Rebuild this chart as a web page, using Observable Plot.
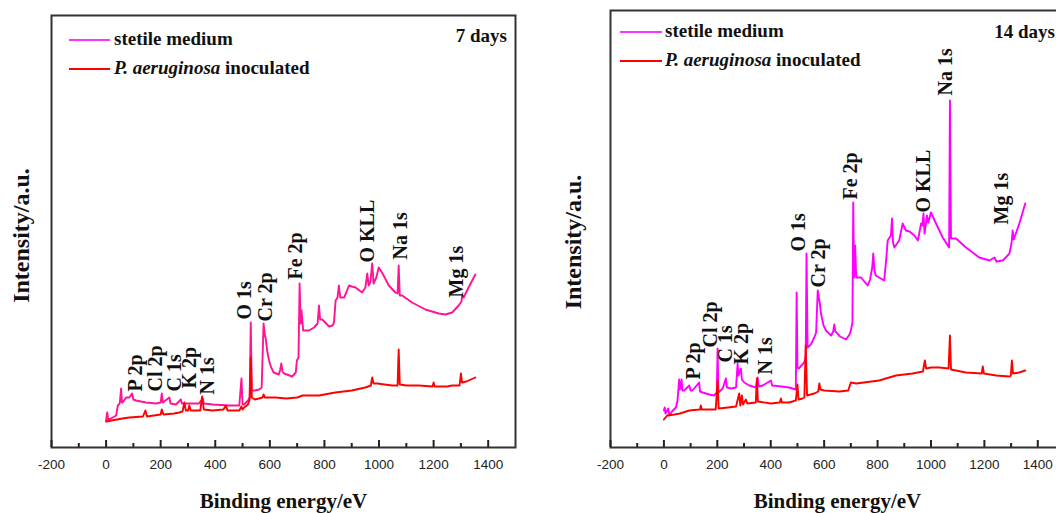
<!DOCTYPE html>
<html><head><meta charset="utf-8">
<script src="https://cdn.jsdelivr.net/npm/d3@7"></script>
<script src="https://cdn.jsdelivr.net/npm/@observablehq/plot@0.6"></script>
<style>
html,body{margin:0;padding:0;background:#fff}
body{width:1056px;height:513px;overflow:hidden;position:relative}
.panel{position:absolute;top:0;height:513px;overflow:hidden}
.panel svg{position:absolute;left:0;top:0;max-width:none!important}
.leg{position:absolute;font:bold 19px "Liberation Serif",serif;color:#111;white-space:nowrap;line-height:20px}
.sw{position:absolute;height:2px}
.day{position:absolute;font:bold 19px "Liberation Serif",serif;color:#111;white-space:nowrap;line-height:20px}
</style></head><body>
<div id="p1" class="panel" style="left:0;width:530px"></div>
<div id="p2" class="panel" style="left:530px;width:526px"></div>
<script>
// ---- data (binding energy eV, intensity a.u.) ----
const majorTicks = [-200, 0, 200, 400, 600, 800, 1000, 1200, 1400];
const minorTicks = [-100, 100, 300, 500, 700, 900, 1100, 1300];
const seriesNames = ["stetile medium", "P. aeruginosa inoculated"];
const peakNames = ["P 2p", "Cl 2p", "C 1s", "K 2p", "N 1s", "O 1s", "Cr 2p", "Fe 2p", "O KLL", "Na 1s", "Mg 1s"];

// 7 days
const sterile7 = [[0,27],[4,35],[8,28],[18,29],[37,32],[43,42],[50,44],[55,59],[58,45],[61,45],[73,50],[85,50],[95,54],[100,48],[110,47],[146,45],[183,44],[200,45],[204,54],[208,45],[232,50],[236,44],[256,43],[274,48],[278,44],[305,44],[340,44],[354,49],[358,44],[390,43],[451,42],[488,42],[496,69],[500,43],[506,43],[520,47],[526,50],[530,125],[534,57],[545,57],[561,58],[570,60],[577,124],[582,112],[585,109],[590,97],[597,87],[605,80],[614,75],[633,73],[638,78],[642,84],[646,76],[652,74],[682,71],[695,75],[699,87],[705,90],[709,164],[713,124],[716,137],[722,117],[743,117],[762,120],[775,124],[780,142],[784,128],[792,128],[817,121],[830,122],[835,125],[841,147],[848,150],[853,162],[858,150],[872,150],[880,155],[890,162],[900,161],[914,160],[938,155],[950,160],[957,174],[962,162],[968,165],[975,184],[980,164],[990,170],[999,180],[1011,175],[1036,162],[1060,155],[1068,154],[1072,182],[1076,152],[1085,152],[1121,145],[1170,138],[1219,134],[1243,133],[1268,135],[1292,142],[1302,146],[1305,152],[1310,150],[1328,160],[1353,173]];
const inoc7 = [[0,26],[20,27],[60,29],[85,30],[135,31],[144,37],[150,31],[200,33],[204,38],[210,33],[250,34],[268,35],[280,36],[287,45],[292,37],[300,37],[305,42],[310,37],[345,37],[352,51],[358,38],[390,37],[430,38],[439,42],[445,37],[488,37],[496,41],[500,38],[506,40],[520,43],[526,48],[530,90],[534,50],[545,48],[560,49],[573,50],[577,53],[582,50],[620,50],[660,49],[700,50],[720,52],[780,52],[840,55],[900,57],[950,60],[970,62],[975,70],[980,64],[994,64],[1020,63],[1048,62],[1068,62],[1072,98],[1076,63],[1100,62],[1146,62],[1196,61],[1200,65],[1204,61],[1250,61],[1268,62],[1295,62],[1300,74],[1304,65],[1320,66],[1353,70]];
const peaks7 = [[107,55],[180,55],[250,55],[307,58],[372,52],[506,127],[585,125],[695,167],[957,184],[1079,187],[1286,149]];

// 14 days
const sterile14 = [[0,37],[3,40],[6,34],[16,39],[21,32],[30,36],[45,40],[51,47],[57,68],[60,58],[63,60],[66,68],[69,57],[76,57],[95,62],[100,57],[107,57],[132,65],[135,56],[145,55],[170,53],[188,52],[198,55],[201,99],[204,55],[220,59],[232,69],[236,60],[251,59],[270,60],[276,84],[279,72],[282,74],[288,79],[292,68],[301,65],[320,62],[345,60],[351,70],[355,61],[370,62],[401,67],[405,62],[440,61],[469,60],[494,58],[497,155],[500,80],[505,79],[525,85],[531,90],[534,194],[538,100],[550,103],[563,110],[570,115],[576,157],[580,150],[584,144],[588,134],[598,122],[607,117],[626,112],[634,116],[638,123],[642,116],[660,111],[682,108],[695,113],[700,117],[706,125],[709,245],[712,170],[716,202],[720,170],[738,170],[763,162],[772,168],[780,180],[784,194],[788,178],[793,172],[825,167],[833,190],[838,207],[850,212],[854,229],[858,205],[863,200],[881,207],[894,224],[906,217],[920,216],[938,212],[951,207],[963,224],[968,222],[972,234],[976,214],[985,232],[990,225],[1000,235],[1019,224],[1044,210],[1063,202],[1068,200],[1071,347],[1075,209],[1094,209],[1131,200],[1181,190],[1219,187],[1238,190],[1245,186],[1269,187],[1294,194],[1302,205],[1306,217],[1310,208],[1331,224],[1353,244]];
const inoc14 = [[0,28],[12,32],[40,33],[60,34],[95,37],[135,38],[138,42],[142,38],[194,38],[201,67],[205,39],[240,40],[270,41],[282,54],[286,42],[292,52],[296,43],[307,48],[312,44],[344,45],[348,69],[352,46],[401,44],[434,45],[438,49],[442,45],[469,45],[494,47],[500,63],[504,48],[519,49],[526,50],[531,102],[536,52],[563,54],[578,56],[582,64],[586,58],[600,57],[657,56],[690,57],[700,65],[720,64],[806,67],[869,72],[931,74],[970,76],[977,87],[982,79],[1000,80],[1031,80],[1066,79],[1071,112],[1075,78],[1131,75],[1190,74],[1194,81],[1198,74],[1244,72],[1294,71],[1299,72],[1303,87],[1307,74],[1330,75],[1353,77]];
const peaks14 = [[110,67],[176,99],[230,84],[292,82],[382,72],[504,195],[579,159],[700,247],[971,234],[1056,351],[1266,222]];

const serif = "Liberation Serif, Times New Roman, serif";

function makePanel(o) {
  const peakData = o.peaks.map((p, i) => ({x: p[0], y: p[1], name: peakNames[i]}));
  const plotH = 513 - o.marginTop - 66;
  const perPx = o.yMax / plotH; // data units per pixel, for inward tick length
  return Plot.plot({
    width: o.width, height: 513,
    marginLeft: o.marginLeft, marginRight: o.marginRight, marginTop: o.marginTop, marginBottom: 66,
    x: {domain: [-200, 1500]},
    y: {domain: [0, o.yMax], axis: null},
    style: {background: "transparent", fontFamily: "Liberation Sans, Arial, sans-serif", fontSize: "13.5px", color: "#222", overflow: "visible", maxWidth: "none"},
    marks: [
      Plot.axisX({ticks: majorTicks, tickSize: 0, tickPadding: 12, tickFormat: d => String(d), label: null}),
      Plot.line(o.sterile, {x: d => d[0], y: d => d[1], stroke: o.sterileColor, strokeWidth: 1.9}),
      Plot.line(o.inoc, {x: d => d[0], y: d => d[1], stroke: "#ff0000", strokeWidth: 1.9}),
      Plot.text(peakData, {x: "x", y: "y", text: "name", rotate: -90, textAnchor: "start", lineAnchor: "middle", dy: -1,
        fontFamily: serif, fontWeight: "bold", fontSize: 20, fill: "#111"}),
      Plot.text(["Binding energy/eV"], {frameAnchor: "bottom", dy: 54, lineAnchor: "middle", textAnchor: "middle",
        fontFamily: serif, fontWeight: "bold", fontSize: 21, fill: "#111"}),
      Plot.text(["Intensity/a.u."], {frameAnchor: "left", rotate: -90, dx: o.yTitleDx, dy: o.yTitleDy, lineAnchor: "middle", textAnchor: "middle",
        fontFamily: serif, fontWeight: "bold", fontSize: 24, fill: "#111"}),
      Plot.frame({stroke: "#333", strokeWidth: 2}),
      Plot.ruleX(majorTicks, {x: d => d, y1: 0, y2: 7 * perPx, stroke: "#222", strokeWidth: 2}),
      Plot.ruleX(minorTicks, {x: d => d, y1: 0, y2: 4 * perPx, stroke: "#222", strokeWidth: 2})
    ]
  });
}

function addLegend(el, L) {
  const mk = (cls, style, html) => { const d = document.createElement("div"); d.className = cls; d.style.cssText = style; if (html) d.innerHTML = html; el.appendChild(d); };
  mk("sw", `left:${L.x0}px;width:${L.x1 - L.x0}px;top:${L.y1 - 1}px;background:#ff33ff`);
  mk("leg", `left:${L.tx}px;top:${L.y1 - 11}px`, seriesNames[0]);
  mk("sw", `left:${L.x0}px;width:${L.x1 - L.x0}px;top:${L.y2 - 1}px;background:#ff0000`);
  mk("leg", `left:${L.tx}px;top:${L.y2 - 11}px`, "<i>P. aeruginosa</i> inoculated");
  mk("day", `right:${L.dr}px;top:${L.dy - 11}px`, L.day);
}

const p1 = document.getElementById("p1");
p1.appendChild(makePanel({width: 530, marginLeft: 51, marginRight: 15, marginTop: 15, yMax: 432,
  sterile: sterile7, inoc: inoc7, sterileColor: "#ff1493", peaks: peaks7, yTitleDx: -30, yTitleDy: 4}));
addLegend(p1, {x0: 69, x1: 110, tx: 114, y1: 40, y2: 69, dr: 23, dy: 37, day: "7 days"});

const p2 = document.getElementById("p2");
p2.appendChild(makePanel({width: 540, marginLeft: 80, marginRight: 6, marginTop: 10, yMax: 437,
  sterile: sterile14, inoc: inoc14, sterileColor: "#ff00ff", peaks: peaks14, yTitleDx: -37, yTitleDy: 13}));
addLegend(p2, {x0: 90, x1: 132, tx: 135, y1: 32, y2: 61, dr: 1, dy: 33, day: "14 days"});
</script>
</body></html>
